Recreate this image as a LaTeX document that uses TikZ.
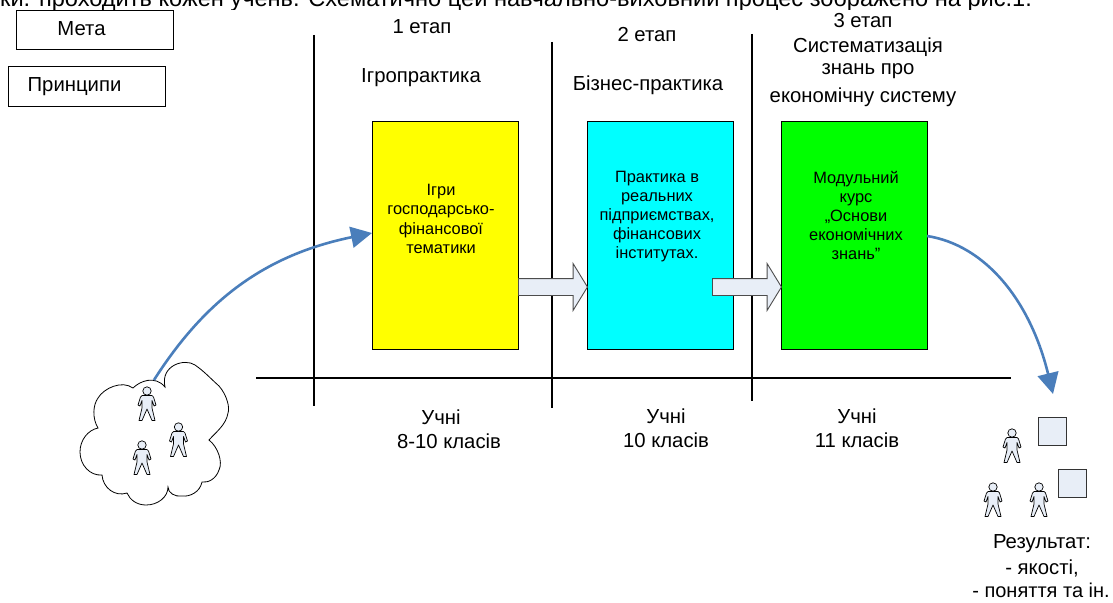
\documentclass[tikz,border=0pt]{standalone}
\usepackage{fontspec}
\setmainfont{Liberation Sans}
\usetikzlibrary{arrows.meta,shapes.arrows}
\definecolor{pale}{HTML}{E8EEF7}
\definecolor{bluearrow}{HTML}{4A7EBB}
\definecolor{boxyellow}{HTML}{FFFF00}
\definecolor{boxcyan}{HTML}{00FFFF}
\definecolor{boxgreen}{HTML}{00FF00}
\newcommand{\fs}[1]{\fontsize{#1}{#1}\selectfont}
\tikzset{
  sq/.style={draw=black,line width=0.8pt,inner sep=0pt},
  legend/.style={sq,fill=white,minimum width=157,minimum height=39.5},
  stagebox/.style={draw=black,line width=0.9pt,inner sep=3pt,minimum width=145.5,minimum height=228,anchor=north west},
  boxtext/.style={align=center,font=\fontsize{16.4}{19.2}\selectfont,inner sep=0pt},
  lbl/.style={font=\fs{20.3},inner sep=0pt,align=center},
  axis/.style={draw=black,line width=1.6pt},
  flow/.style={draw=bluearrow,line width=2.6pt,-{Triangle[length=21,width=21]}},
  barrow/.style={shape=single arrow,draw=black!70,fill=pale,line width=0.9pt,inner sep=8pt,
    minimum height=69,single arrow head extend=15,single arrow tip angle=117,
    single arrow head indent=0,shape border rotate=0},
  resultsq/.style={sq,draw=black!80,fill=pale,minimum size=28},
  man/.pic={
    \draw[black,line width=0.7pt,fill=pale,line join=round]
      (-5,4.5) -- (5,4.5) -- (6.5,6) -- (9,14) -- (7,15) -- (5,9.5) -- (5,17) -- (8,29.5) -- (5,29.5)
      -- (0,18) -- (-5,29.5) -- (-8,29.5) -- (-5,17) -- (-5,9.5) -- (-7,15) -- (-9,14) -- (-6.5,6) -- cycle;
    \draw[black,line width=0.7pt,fill=pale] (0,0) circle[radius=4.2];
  }
}
\begin{document}
\begin{tikzpicture}[x=1pt,y=-1pt]
\useasboundingbox (0,0) rectangle (1113,602);
\begin{scope}
  \clip (0,0) rectangle (1113,10);
  \node[font=\fs{23.6},anchor=base west,inner sep=0pt] (top) at (0,6.5)
    {ки. проходить кожен учень. Схематично цей навчально-виховний процес зображено на рис.1.};
\end{scope}
% legend
\node[legend] (meta) at (94.5,30) {};
\node[lbl] (metat) at (81.5,29) {Мета};
\node[legend] (princ) at (86.5,86.5) {};
\node[lbl] (princt) at (74.5,87) {Принципи};
% axes
\coordinate (v1a) at (314,35); \coordinate (v1b) at (314,406);
\coordinate (v2a) at (552,42); \coordinate (v2b) at (552,408);
\coordinate (v3a) at (752,34); \coordinate (v3b) at (752,401);
\coordinate (ha) at (256,378); \coordinate (hb) at (1011,378);
\draw[axis] (v1a) -- (v1b);
\draw[axis] (v2a) -- (v2b);
\draw[axis] (v3a) -- (v3b);
\draw[axis] (ha) -- (hb);
% stage boxes
\node[stagebox,fill=boxyellow] (yb) at (372,121) {};
\node[stagebox,fill=boxcyan] (cb) at (587,121) {};
\node[stagebox,fill=boxgreen] (gb) at (781,121) {};
\node[boxtext] (yt) at (441,219) {Ігри\\господарсько-\\фінансової\\тематики};
\node[boxtext] (ct) at (657,216.5) {Практика в\\реальних\\підприємствах,\\фінансових\\інститутах.};
\node[boxtext] (gt) at (856,215.5) {Модульний\\курс\\„Основи\\економічних\\знань"};
% block arrows
\node[barrow,anchor=tail] (a1) at (518,287) {};
\node[barrow,anchor=tail] (a2) at (712,287) {};
% stage headings
\node[lbl] (s1) at (422,27) {1 етап};
\node[lbl] (s1n) at (421,78) {Ігропрактика};
\node[lbl] (s2) at (647,35) {2 етап};
\node[lbl] (s2n) at (648,85) {Бізнес-практика};
\node[lbl] (s3) at (863,21) {3 етап};
\node[lbl] (s3a) at (868,47) {Систематизація};
\node[lbl] (s3b) at (868,71) {знань про};
\node[lbl] (s3c) at (863,97) {економічну систему};
% pupils
\node[lbl] (p1a) at (441,417) {Учні};
\node[lbl] (p1b) at (449,441) {8-10 класів};
\node[lbl] (p2a) at (666,416) {Учні};
\node[lbl] (p2b) at (666,440) {10 класів};
\node[lbl] (p3a) at (857,416) {Учні};
\node[lbl] (p3b) at (857,440) {11 класів};
% cloud
\draw[black,line width=0.8pt,fill=white]
  (133,388) .. controls (140,381) and (155,375) .. (165,387)
  .. controls (160,365) and (185,358) .. (195,365)
  .. controls (205,372) and (210,378) .. (219,386)
  .. controls (227,395) and (230,408) .. (228,413)
  .. controls (226,425) and (216,432) .. (209,440)
  .. controls (218,447) and (223,462) .. (219,470)
  .. controls (216,479) and (208,483) .. (202,482)
  .. controls (200,492) and (190,497) .. (182,496)
  .. controls (175,497) and (168,493) .. (168,487)
  .. controls (168,497) and (158,505) .. (146,505)
  .. controls (137,505) and (130,500) .. (127,493)
  .. controls (115,497) and (103,488) .. (102,475)
  .. controls (90,476) and (80,465) .. (80,452)
  .. controls (80,440) and (88,430) .. (98,428)
  .. controls (92,418) and (93,405) .. (98,398)
  .. controls (104,388) and (122,380) .. (133,388) -- cycle;
\coordinate (cloudtop) at (154,380);
% people
\pic at (147,391) {man};
\pic at (178.5,427) {man};
\pic at (142,445) {man};
\pic at (1012,433) {man};
\pic at (993,487) {man};
\pic at (1039,487) {man};
% result squares
\node[resultsq] (r1) at (1052,431) {};
\node[resultsq] (r2) at (1072,483) {};
% flows
\coordinate (in) at (372,233);
\coordinate (resultpt) at (1053,394);
\draw[flow] (cloudtop) .. controls (205,300) and (265,255) .. (in);
\coordinate (gout) at (927,236);
\draw[flow] (gout) .. controls (985,245) and (1030,300) .. (resultpt);
% result
\node[lbl] (res1) at (1042,544) {Результат:};
\node[lbl] (res2) at (1042,568) {- якості,};
\node[lbl,font=\fs{20}] (res3) at (1041,590.5) {- поняття та ін.};
\end{tikzpicture}
\end{document}
